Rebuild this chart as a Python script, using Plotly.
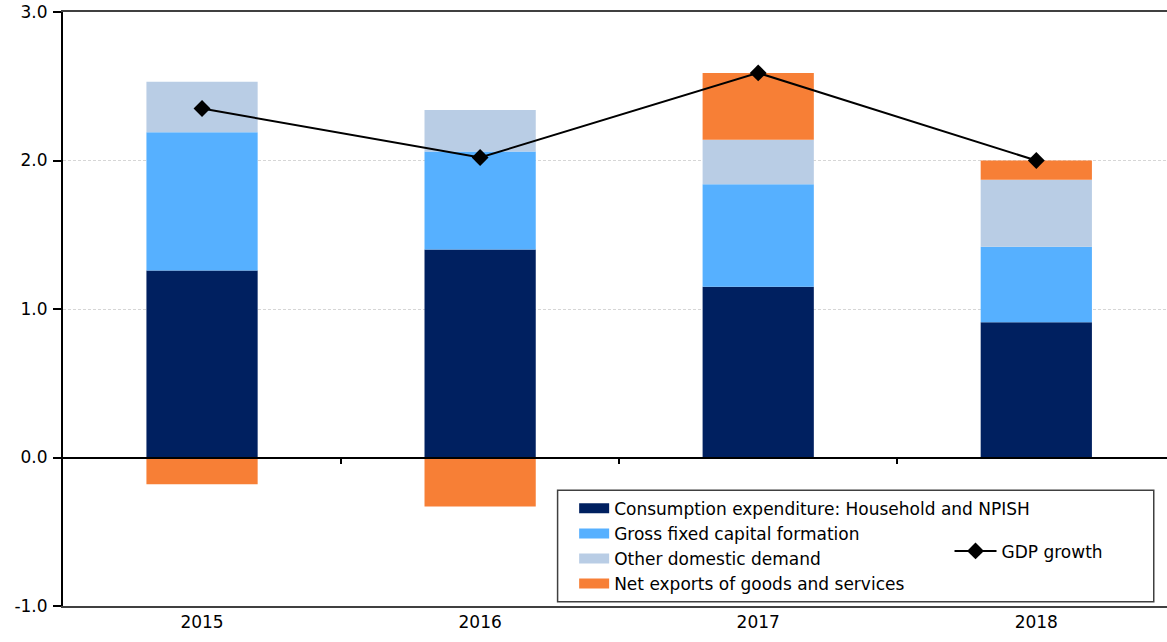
import plotly.graph_objects as go

years = ["2015", "2016", "2017", "2018"]
consumption = [1.26, 1.40, 1.15, 0.91]
gfcf = [0.93, 0.66, 0.69, 0.51]
other_demand = [0.34, 0.28, 0.30, 0.45]
net_exports = [-0.18, -0.33, 0.45, 0.13]
gdp_growth = [2.35, 2.02, 2.59, 2.00]

FONT = "Verdana, DejaVu Sans, sans-serif"

fig = go.Figure()

bar_series = [
    ("Consumption expenditure: Household and NPISH", consumption, "#002060"),
    ("Gross fixed capital formation", gfcf, "#56B0FF"),
    ("Other domestic demand", other_demand, "#B9CDE5"),
    ("Net exports of goods and services", net_exports, "#F77F36"),
]
for name, vals, color in bar_series:
    fig.add_trace(go.Bar(
        x=years, y=vals, name=name, marker_color=color,
        marker_line_width=0, width=0.4, showlegend=False, legendgroup=name,
    ))
    # wide rectangular legend key for the bar series
    fig.add_trace(go.Scatter(
        x=[None], y=[None], name=name, mode="lines",
        line=dict(color=color, width=13), legend="legend", legendgroup=name,
    ))

fig.add_trace(go.Scatter(
    x=years, y=gdp_growth, name="GDP growth", mode="lines+markers",
    line=dict(color="black", width=2),
    marker=dict(symbol="diamond", size=13, color="black"),
    legend="legend2",
))

# helper trace for the category axis that carries the boundary ticks on the zero line
fig.add_trace(go.Scatter(x=years, y=[None] * 4, xaxis="x2", showlegend=False,
                         hoverinfo="skip"))

fig.update_layout(
    width=1167, height=642,
    margin=dict(l=63, r=0, t=12, b=36),
    paper_bgcolor="white", plot_bgcolor="white",
    barmode="relative",
    font=dict(family=FONT, size=17, color="black"),
    xaxis=dict(
        type="category", range=[-0.5, 3.47],
        showline=True, linecolor="#404040", linewidth=2, mirror=True,
        ticks="", showgrid=False, tickfont=dict(size=17),
    ),
    xaxis2=dict(
        type="category", range=[-0.5, 3.47], overlaying="x",
        anchor="free", position=0.25,
        showline=True, linecolor="black", linewidth=1.5,
        ticks="outside", ticklen=6, tickwidth=1.5, tickcolor="black",
        tickmode="array", tickvals=[0.5, 1.5, 2.5],
        showticklabels=False, showgrid=False,
    ),
    yaxis=dict(
        range=[-1, 3], tickvals=[-1, 0, 1, 2, 3],
        ticktext=["-1.0", "0.0", "1.0", "2.0", "3.0"],
        showline=True, linecolor="black", linewidth=2,
        ticks="outside", ticklen=8, tickcolor="black", tickwidth=1.5,
        showgrid=True, gridcolor="#d6d6d6", griddash="3px,2px", gridwidth=1,
        zeroline=False, tickfont=dict(size=17), ticklabelstandoff=2,
    ),
    legend=dict(
        x=0.463, y=0.194, xanchor="left", yanchor="top",
        bgcolor="rgba(0,0,0,0)", borderwidth=0,
        font=dict(size=17), traceorder="normal", tracegroupgap=2,
    ),
    legend2=dict(
        x=0.803, y=0.092, xanchor="left", yanchor="middle",
        bgcolor="rgba(0,0,0,0)", borderwidth=0, font=dict(size=17),
        itemwidth=42,
    ),
    shapes=[dict(
        type="rect", xref="paper", yref="paper",
        x0=0.448, x1=0.988, y0=0.007, y1=0.195,
        line=dict(color="#404040", width=1.5), fillcolor="white", layer="below",
    )],
)

fig.write_html("out.html")
